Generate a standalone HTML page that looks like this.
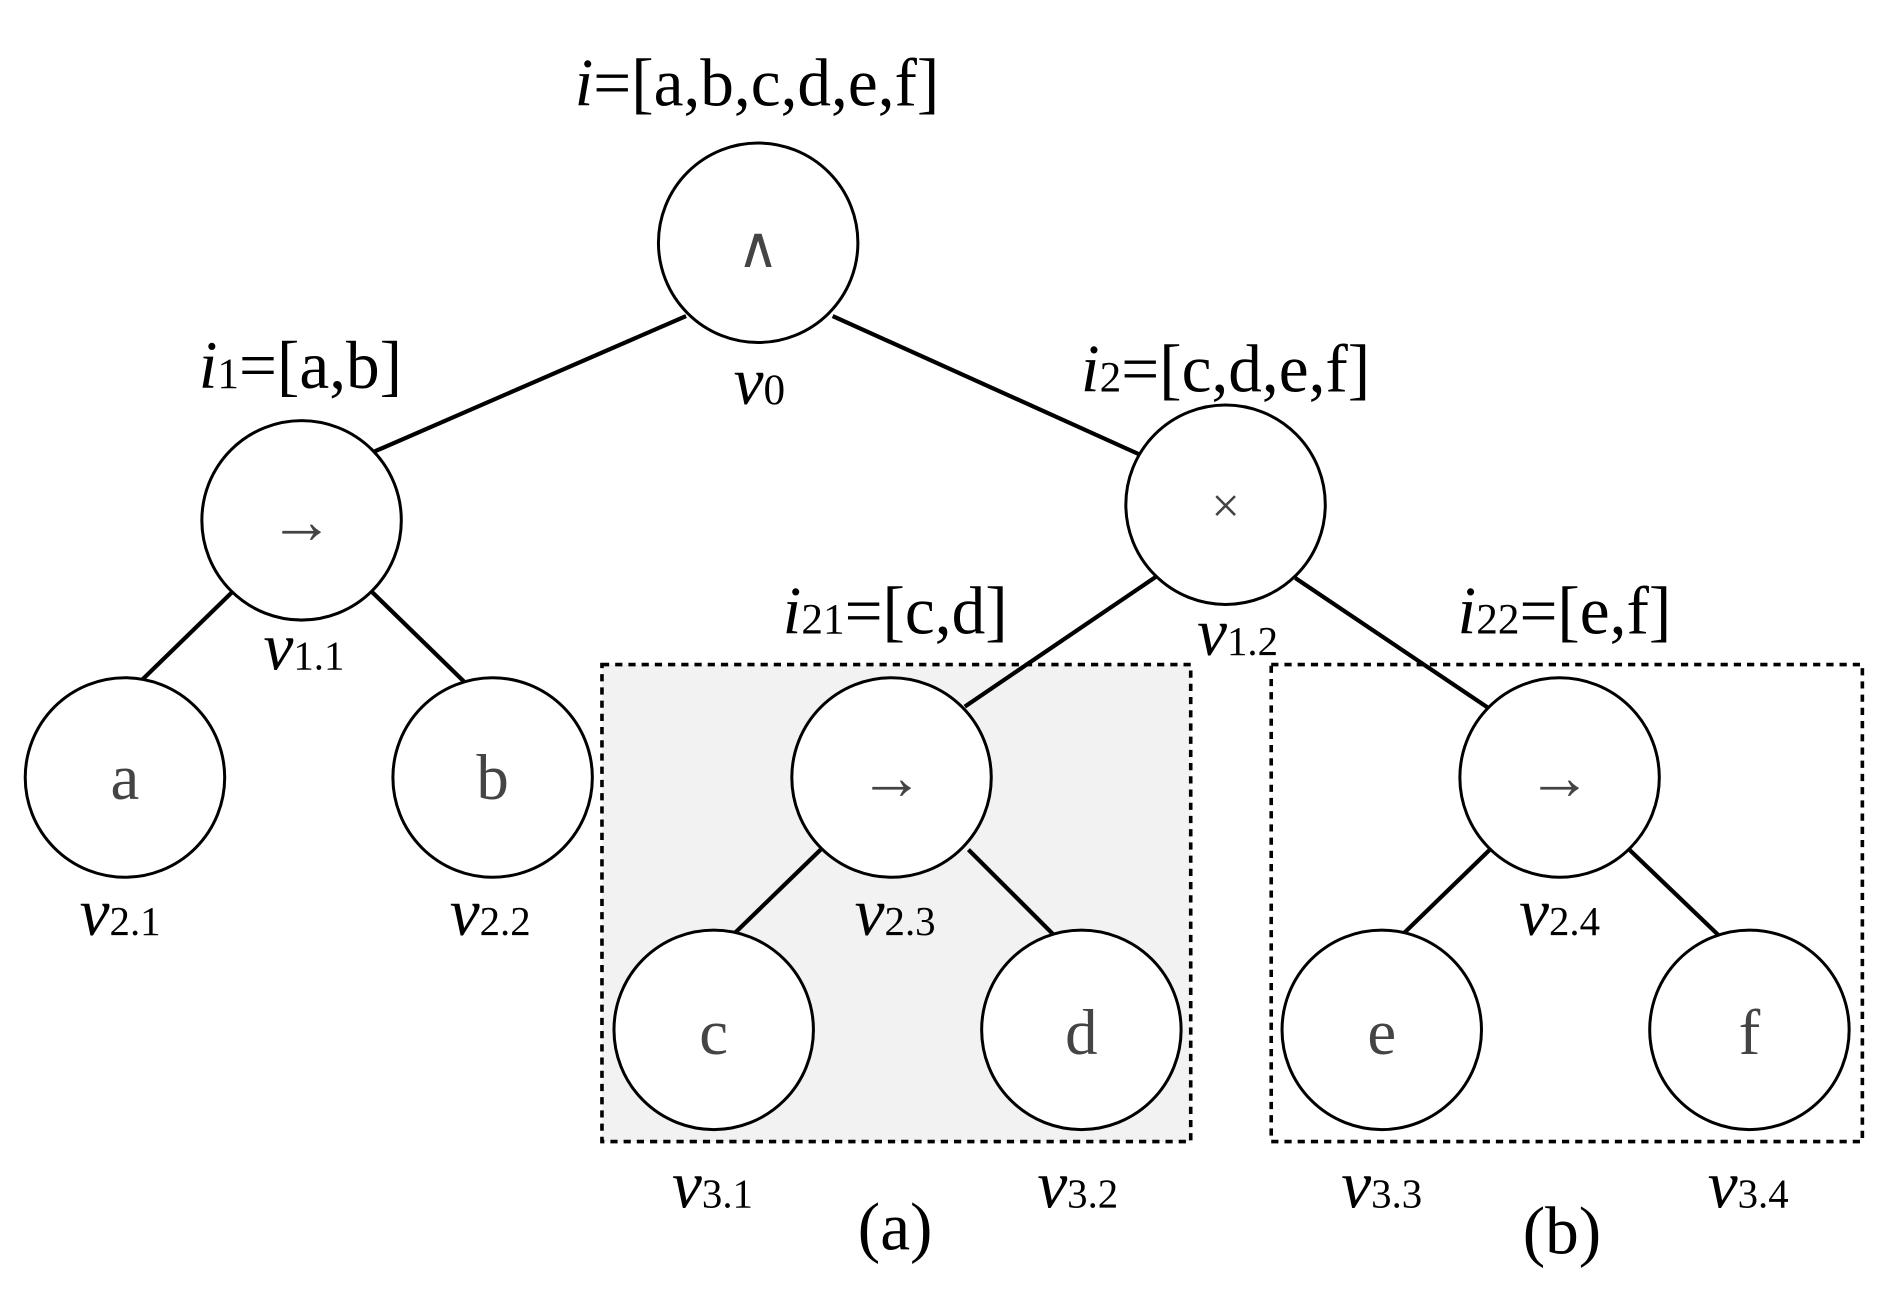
<!DOCTYPE html>
<html><head><meta charset="utf-8"><style>
html,body{margin:0;padding:0;background:#fff;}
svg{display:block;}
text{font-family:"Liberation Serif",serif;}
</style></head><body>
<svg width="1884" height="1293" viewBox="0 0 1568 1076" preserveAspectRatio="none" xmlns="http://www.w3.org/2000/svg">
<rect x="501" y="553" width="490" height="397" fill="#f2f2f2" stroke="#000" stroke-width="3" stroke-dasharray="6,5"/>
<rect x="1058" y="553" width="492" height="397" fill="none" stroke="#000" stroke-width="3" stroke-dasharray="6,5"/>
<g stroke="#000" stroke-width="3.5">
<line x1="571" y1="263" x2="311" y2="376"/>
<line x1="693" y1="263" x2="948" y2="378"/>
<line x1="193" y1="493" x2="118" y2="566"/>
<line x1="309" y1="492" x2="386" y2="567"/>
<line x1="962" y1="480" x2="803" y2="588"/>
<line x1="1078" y1="481" x2="1240" y2="590"/>
<line x1="683" y1="707" x2="610" y2="778"/>
<line x1="806" y1="707" x2="877" y2="778"/>
<line x1="1240" y1="707" x2="1167" y2="778"/>
<line x1="1356" y1="707" x2="1430" y2="778"/>
</g>
<g fill="#fff" stroke="#000" stroke-width="2.5">
<circle cx="631" cy="202" r="83"/>
<circle cx="251" cy="433" r="83"/>
<circle cx="1020" cy="420" r="83"/>
<circle cx="104" cy="647" r="83"/>
<circle cx="410" cy="647" r="83"/>
<circle cx="742" cy="647" r="83"/>
<circle cx="1298" cy="647" r="83"/>
<circle cx="594" cy="857" r="83"/>
<circle cx="900" cy="857" r="83"/>
<circle cx="1150" cy="857" r="83"/>
<circle cx="1456" cy="857" r="83"/>
</g>
<g fill="#444" font-size="54" text-anchor="middle">
<text x="631" y="222" font-family="Liberation Sans,sans-serif" font-size="48">∧</text>
<text x="251" y="452">→</text>
<text x="1020" y="435" font-size="42">×</text>
<text x="104" y="665">a</text>
<text x="410" y="665">b</text>
<text x="742" y="665">→</text>
<text x="1298" y="665">→</text>
<text x="594" y="877">c</text>
<text x="900" y="877">d</text>
<text x="1150" y="877">e</text>
<text x="1456" y="877">f</text>
</g>
<g fill="#000" font-size="56" text-anchor="middle">
<text x="630" y="88"><tspan font-style="italic">i</tspan>=[a,b,c,d,e,f]</text>
<text x="250" y="323"><tspan font-style="italic">i</tspan><tspan font-size="36">1</tspan>=[a,b]</text>
<text x="1020" y="326"><tspan font-style="italic">i</tspan><tspan font-size="36">2</tspan>=[c,d,e,f]</text>
<text x="745" y="527"><tspan font-style="italic">i</tspan><tspan font-size="36">21</tspan>=[c,d]</text>
<text x="1302" y="527"><tspan font-style="italic">i</tspan><tspan font-size="36">22</tspan>=[e,f]</text>
<text x="745" y="1040">(a)</text>
<text x="1300" y="1043">(b)</text>
</g>
<g fill="#000" font-size="56" text-anchor="middle">
<text x="632" y="336"><tspan font-style="italic">v</tspan><tspan font-size="36">0</tspan></text>
<text x="253" y="557"><tspan font-style="italic">v</tspan><tspan font-size="34">1.1</tspan></text>
<text x="1030" y="545"><tspan font-style="italic">v</tspan><tspan font-size="34">1.2</tspan></text>
<text x="100" y="778"><tspan font-style="italic">v</tspan><tspan font-size="34">2.1</tspan></text>
<text x="408" y="778"><tspan font-style="italic">v</tspan><tspan font-size="34">2.2</tspan></text>
<text x="745" y="778"><tspan font-style="italic">v</tspan><tspan font-size="34">2.3</tspan></text>
<text x="1298" y="778"><tspan font-style="italic">v</tspan><tspan font-size="34">2.4</tspan></text>
<text x="593" y="1005"><tspan font-style="italic">v</tspan><tspan font-size="34">3.1</tspan></text>
<text x="897" y="1005"><tspan font-style="italic">v</tspan><tspan font-size="34">3.2</tspan></text>
<text x="1150" y="1005"><tspan font-style="italic">v</tspan><tspan font-size="34">3.3</tspan></text>
<text x="1455" y="1005"><tspan font-style="italic">v</tspan><tspan font-size="34">3.4</tspan></text>
</g>
</svg>
</body></html>
